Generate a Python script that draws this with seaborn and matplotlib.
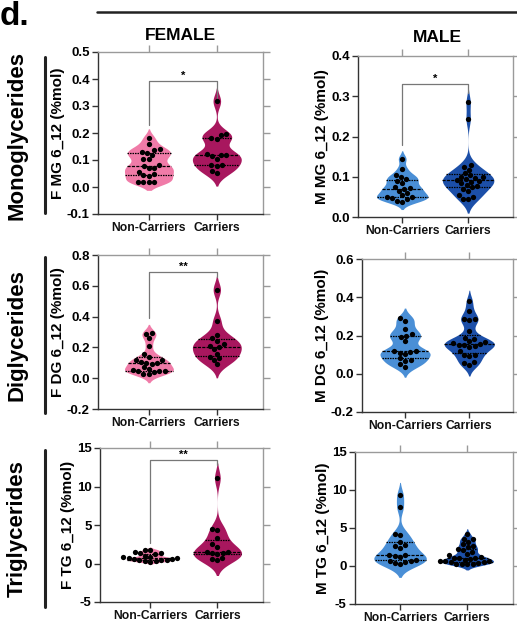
import numpy as np
import pandas as pd
import matplotlib
matplotlib.use("Agg")
import matplotlib.pyplot as plt
import seaborn as sns

sns.set_style("white")
plt.rcParams['font.family'] = ['Liberation Sans', 'DejaVu Sans']
plt.rcParams['text.color'] = 'black'

groups = ["Non-Carriers", "Carriers"]

# values (%mol)
f_mg_nc = [0.183, 0.160, 0.142, 0.136, 0.130, 0.125, 0.118, 0.105, 0.102, 0.080, 0.076,
           0.072, 0.070, 0.055, 0.050, 0.045, 0.042, 0.020, 0.020, 0.020, 0.020]
f_mg_c = [0.318, 0.195, 0.192, 0.182, 0.178, 0.122, 0.120, 0.118, 0.115, 0.105, 0.082,
          0.080, 0.078, 0.058, 0.052]
m_mg_nc = [0.145, 0.120, 0.105, 0.100, 0.095, 0.090, 0.085, 0.075, 0.072, 0.070, 0.065,
           0.060, 0.055, 0.050, 0.050, 0.048, 0.045, 0.040, 0.038]
m_mg_c = [0.285, 0.243, 0.130, 0.125, 0.118, 0.110, 0.105, 0.100, 0.100, 0.098, 0.095, 0.092,
          0.090, 0.088, 0.085, 0.080, 0.078, 0.075, 0.070, 0.065, 0.055, 0.050, 0.045, 0.045]
f_dg_nc = [0.295, 0.290, 0.260, 0.210, 0.155, 0.140, 0.120, 0.115, 0.105, 0.100, 0.100,
           0.090, 0.070, 0.060, 0.055, 0.050, 0.050, 0.045, 0.040, 0.030, 0.025]
f_dg_c = [0.575, 0.370, 0.280, 0.260, 0.240, 0.220, 0.210, 0.200, 0.190, 0.160, 0.140,
          0.130, 0.120, 0.090]
m_dg_nc = [0.290, 0.275, 0.235, 0.210, 0.200, 0.190, 0.170, 0.120, 0.120, 0.115, 0.110,
           0.105, 0.080, 0.070, 0.065, 0.050, 0.035]
m_dg_c = [0.380, 0.330, 0.285, 0.285, 0.280, 0.225, 0.185, 0.180, 0.170, 0.165, 0.160, 0.155,
          0.150, 0.150, 0.145, 0.140, 0.120, 0.100, 0.100, 0.095, 0.060, 0.055, 0.045]
f_tg_nc = [1.8, 1.7, 1.5, 1.4, 1.3, 1.2, 1.0, 0.9, 0.8, 0.7, 0.7, 0.6, 0.6, 0.5, 0.5,
           0.4, 0.3, 0.3, 0.2]
f_tg_c = [11.1, 4.5, 4.3, 3.3, 2.5, 2.2, 1.5, 1.45, 1.4, 1.3, 1.2, 0.7, 0.6, 0.4]
m_tg_nc = [9.3, 7.7, 4.2, 4.1, 3.2, 2.8, 2.6, 2.4, 1.5, 1.4, 1.3, 1.2, 0.8, 0.7, 0.6,
           0.5, 0.4, 0.2]
m_tg_c = [4.2, 3.6, 3.5, 3.2, 2.9, 2.6, 2.5, 2.2, 2.1, 1.9, 1.6, 1.4, 1.2, 1.1, 1.1, 1.0,
          0.9, 0.8, 0.7, 0.6, 0.6, 0.5, 0.5, 0.4, 0.3, 0.3, 0.2, 0.2]

female_colors = ["#F07BA8", "#A8175E"]
male_colors = ["#4A8FD6", "#1C4FA8"]

ylabels = ["F MG 6_12 (%mol)", "M MG 6_12 (%mol)",
           "F DG 6_12 (%mol)", "M DG 6_12 (%mol)",
           "F TG 6_12 (%mol)", "M TG 6_12 (%mol)"]
ylims = [(-0.1, 0.5), (0.0, 0.4), (-0.2, 0.8), (-0.2, 0.6), (-5, 15), (-5, 15)]
yticks = [np.arange(-0.1, 0.51, 0.1), np.arange(0.0, 0.41, 0.1),
          np.arange(-0.2, 0.81, 0.2), np.arange(-0.2, 0.61, 0.2),
          np.arange(-5, 16, 5), np.arange(-5, 16, 5)]
ytickfmt = ["{:.1f}", "{:.1f}", "{:.1f}", "{:.1f}", "{:.0f}", "{:.0f}"]

# significance brackets: (star text, bracket top, left leg end, right leg end)
brackets = [("*", 0.393, 0.23, 0.33), ("*", 0.33, 0.18, 0.308),
            ("**", 0.69, 0.39, 0.66), None,
            ("**", 13.4, 2.6, 12.8), None]

panels = [(f_mg_nc, f_mg_c), (m_mg_nc, m_mg_c), (f_dg_nc, f_dg_c),
          (m_dg_nc, m_dg_c), (f_tg_nc, f_tg_c), (m_tg_nc, m_tg_c)]

W, H = 517, 630
# axes boxes in pixels: left, right, top, bottom
boxes = [(98, 263, 52, 214), (358, 513, 56, 217),
         (98, 263, 255, 409), (362, 513, 259, 412),
         (100, 263, 448, 602), (355, 513, 452, 604)]
xlims = [(-0.75, 1.68), (-0.67, 1.68)]

fig = plt.figure(figsize=(W / 100, H / 100), dpi=100)

for i, (nc, c) in enumerate(panels):
    l, r, t, b = boxes[i]
    ax = fig.add_axes([l / W, (H - b) / H, (r - l) / W, (b - t) / H])
    df = pd.DataFrame({"group": [groups[0]] * len(nc) + [groups[1]] * len(c),
                       "value": nc + c})
    pal = female_colors if i % 2 == 0 else male_colors
    sns.violinplot(data=df, x="group", y="value", hue="group", order=groups,
                   hue_order=groups, palette=pal, saturation=1, legend=False,
                   inner="quart", linewidth=0, bw_adjust=0.6, cut=2,
                   density_norm="width", width=0.72 if i % 2 == 0 else 0.78,
                   inner_kws=dict(color="black", linewidth=0.9), ax=ax)
    sns.swarmplot(data=df, x="group", y="value", order=groups, color="black",
                  size=3.8, ax=ax)

    ax.set_ylim(*ylims[i])
    ax.set_xlim(*xlims[i % 2])
    ax.set_yticks(yticks[i])
    ax.set_yticklabels([ytickfmt[i].format(v) for v in yticks[i]],
                       fontsize=9.5, fontweight="bold", color="black")
    ax.set_xticks([0, 1])
    ax.set_xticklabels(groups, fontsize=8.7, fontweight="bold", color="#111111")
    ax.set_xlabel("")
    ax.set_ylabel(ylabels[i], fontsize=11, fontweight="bold", labelpad=1.5,
                  color="black")

    for s in ["left", "bottom"]:
        ax.spines[s].set_color("#333333")
        ax.spines[s].set_linewidth(1.0)
    for s in ["top", "right"]:
        ax.spines[s].set_color("#9a9a9a")
        ax.spines[s].set_linewidth(1.0)
    ax.tick_params(axis="both", direction="out", length=4, width=1.0,
                   color="#333333", left=True, bottom=True, pad=2)

    top = ax.secondary_xaxis("top")
    top.set_xticks([0, 1])
    top.set_xticklabels([])
    top.tick_params(direction="out", length=5, width=1.0, color="#9a9a9a")
    top.spines["top"].set_visible(False)
    right = ax.secondary_yaxis("right")
    right.set_yticks(yticks[i])
    right.set_yticklabels([])
    right.tick_params(direction="out", length=5, width=1.0, color="#9a9a9a")
    right.spines["right"].set_visible(False)

    br = brackets[i]
    if br is not None:
        star, ytop, yl, yr = br
        ax.plot([0, 0, 1, 1], [yl, ytop, ytop, yr], color="#777777", lw=0.9,
                clip_on=False)
        ax.text(0.5, ytop, star, ha="center", va="bottom", fontsize=8,
                fontweight="bold")

# row labels with their vertical bars
row_names = ["Monoglycerides", "Diglycerides", "Triglycerides"]
row_spans = [(57, 213), (257, 413), (450, 607)]
for name, (y0, y1) in zip(row_names, row_spans):
    fig.text(17 / W, 1 - (y0 + y1) / 2 / H, name, rotation=90, ha="center",
             va="center", fontsize=16, fontweight="bold",
             family=["Liberation Sans Narrow", "Liberation Sans"])
    fig.add_artist(plt.Line2D([45 / W, 45 / W], [1 - y0 / H, 1 - y1 / H],
                              color="#222222", lw=2.2))

fig.text(180 / W, 1 - 35 / H, "FEMALE", ha="center", va="center",
         fontsize=12.5, fontweight="bold")
fig.text(437 / W, 1 - 38 / H, "MALE", ha="center", va="center",
         fontsize=12.5, fontweight="bold")
fig.text(0 / W, 1 - 25 / H, "d.", ha="left", va="baseline", fontsize=24,
         fontweight="bold")
fig.add_artist(plt.Line2D([97 / W, 1.0], [1 - 12 / H, 1 - 12 / H],
                          color="#222222", lw=1.8))

fig.savefig("out.png", dpi=100)
